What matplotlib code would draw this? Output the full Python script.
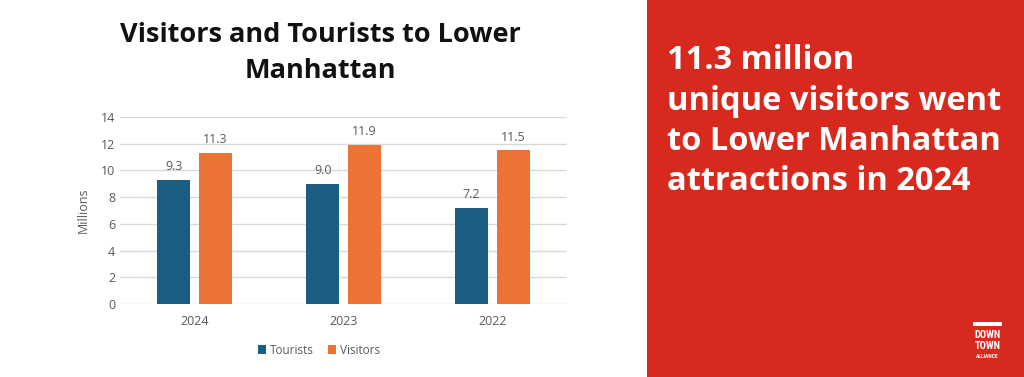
import numpy as np
import matplotlib.pyplot as plt
from matplotlib.patches import Rectangle

years = ["2024", "2023", "2022"]
tourists = [9.3, 9.0, 7.2]
visitors = [11.3, 11.9, 11.5]
yticks = [0, 2, 4, 6, 8, 10, 12, 14]
headline = ["11.3 million", "unique visitors went", "to Lower Manhattan", "attractions in 2024"]

blue = "#1A5E83"
orange = "#EB7333"
red = "#D8291E"
grey = "#595959"

plt.rcParams['font.family'] = ['Open Sans', 'DejaVu Sans']

fig = plt.figure(figsize=(10.24, 3.77), dpi=100)
fig.patch.set_facecolor("white")

# red panel on the right
fig.patches.append(Rectangle((647/1024, 0), 1 - 647/1024, 1, transform=fig.transFigure,
                             facecolor=red, edgecolor="none", zorder=0))
for i, line in enumerate(headline):
    fig.text(667/1024, 1 - (69 + 40.5*i)/377, line, color="white", fontsize=23.5,
             fontweight="bold", va="baseline", ha="left")

# logo
fig.patches.append(Rectangle((973/1024, 1 - 326/377), 29/1024, 4/377, transform=fig.transFigure,
                             facecolor="white", edgecolor="none"))
for txt, yy, fs in (("DOWN", 335, 7.5), ("TOWN", 346, 7.5), ("ALLIANCE", 357, 4)):
    fig.text(987.5/1024, 1 - yy/377, txt, color="white", fontsize=fs, fontweight="bold",
             ha="center", va="center", family=["Roboto Condensed", "Liberation Sans Narrow", "DejaVu Sans"])

# title
fig.text(320/1024, 1 - 53/377, "Visitors and Tourists to Lower\nManhattan", ha="center", va="center",
         fontsize=19.5, fontweight="bold", color="#111111", linespacing=1.5)

ax = fig.add_axes([120/1024, 1 - 304/377, 447/1024, (304 - 117)/377])
x = np.arange(len(years))
w = 0.22
b1 = ax.bar(x - w/2 - 0.03, tourists, w, color=blue, label="Tourists", zorder=3)
b2 = ax.bar(x + w/2 + 0.03, visitors, w, color=orange, label="Visitors", zorder=3)
for bars, vals in ((b1, tourists), (b2, visitors)):
    for r, v in zip(bars, vals):
        ax.text(r.get_x() + r.get_width()/2, v + 0.5, f"{v:.1f}", ha="center", va="bottom",
                fontsize=9, color=grey)

ax.set_ylim(0, 14)
ax.set_xlim(-0.5, 2.5)
ax.set_yticks(yticks)
ax.set_xticks(x)
ax.set_xticklabels(years)
ax.tick_params(length=0, labelsize=9, colors=grey)
ax.tick_params(axis="x", pad=8)
ax.yaxis.grid(True, color="#D9D9D9", linewidth=1, zorder=0)
for s in ax.spines.values():
    s.set_visible(False)
ax.set_ylabel("Millions", fontsize=9, color=grey, labelpad=8)

fig.legend(*ax.get_legend_handles_labels(), loc="center", bbox_to_anchor=(319/1024, 1 - 350/377),
           ncol=2, frameon=False, fontsize=8.5, handlelength=0.7, handleheight=0.7,
           handletextpad=0.3, columnspacing=1.2, labelcolor=grey)

fig.savefig("out.png", dpi=100)
